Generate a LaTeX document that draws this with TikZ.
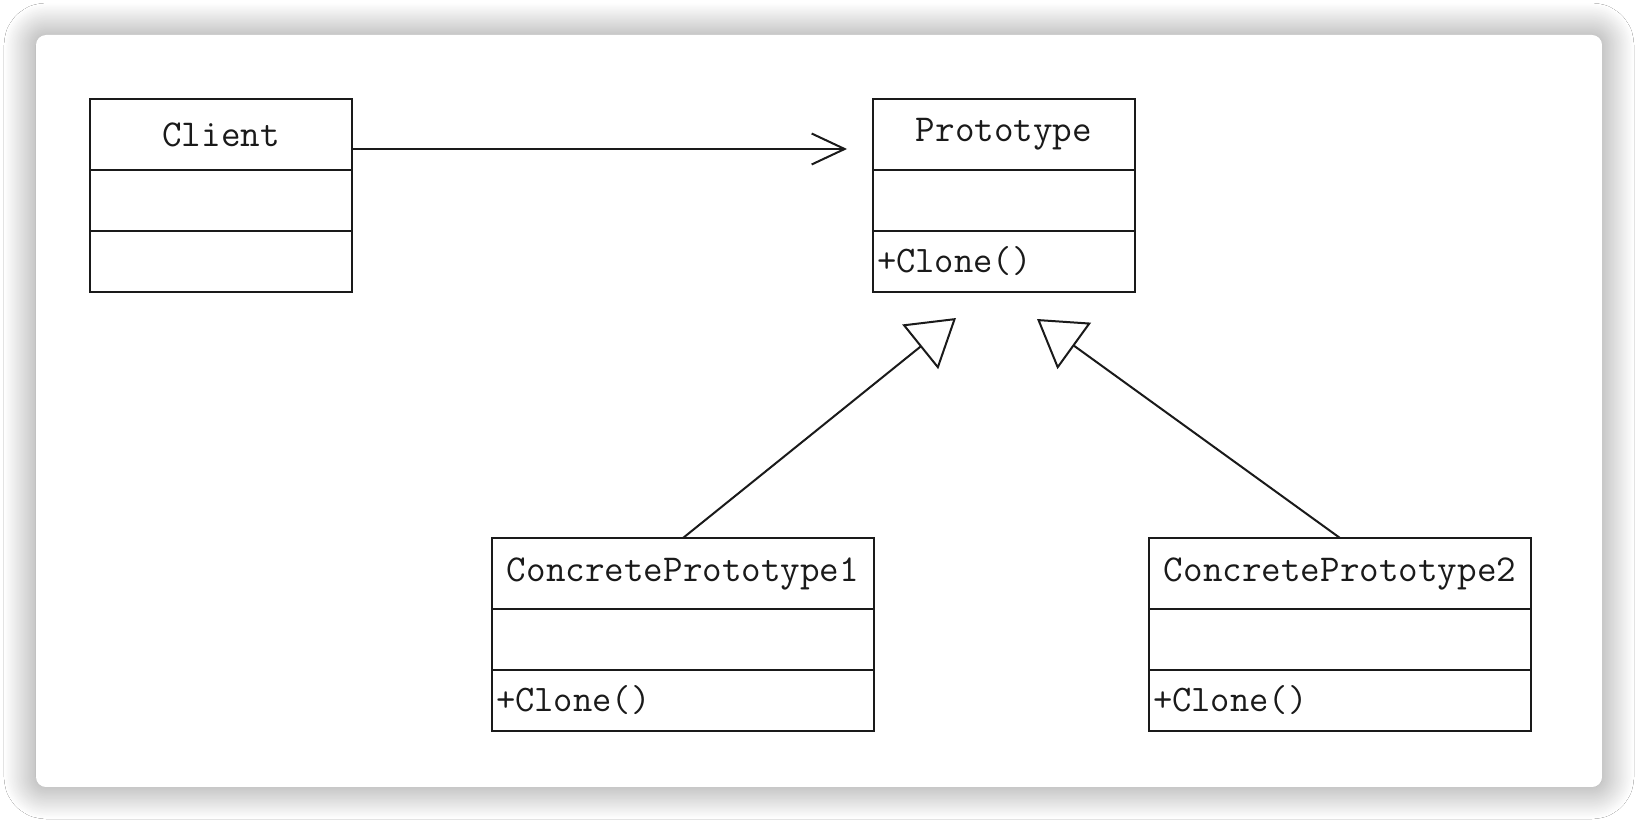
\documentclass[tikz,border=0pt]{standalone}
\usepackage{fontspec}
\usepackage{tikz}
\usetikzlibrary{arrows.meta,positioning,shadows.blur}
\definecolor{ink}{HTML}{1A1A1A}
\tikzset{
  % klasser
  cls/.style={draw=ink,fill=white,line width=2.2pt,outer sep=0pt,inner sep=0pt,text=ink},
  hd/.style={cls,minimum height=71pt,font=\ttfamily\fontsize{38}{42}\selectfont},
  cmp/.style={cls,minimum height=61pt,font=\ttfamily\fontsize{37.5}{42}\selectfont},
  % pilar
  assoc/.style={-{Straight Barb[length=33pt,width=31pt]},draw=ink,line width=2pt},
  inh/.style={-{Triangle[open,length=46pt,width=57pt]},draw=ink,line width=2pt},
}
\begin{document}
\begin{tikzpicture}[x=1pt,y=-1pt]
  \fill[white] (0,0) rectangle (1638,824);
  \useasboundingbox (0,0) rectangle (1638,824);
  \fill[white,rounded corners=10pt,blur shadow={shadow xshift=0pt,shadow yshift=0pt,
    shadow blur radius=32pt,shadow blur steps=40,shadow opacity=45}] (36,35) rectangle (1602,787);
  \foreach \nm/\x/\y/\w/\tw/\ttl/\op in {client/90/99/262/254/Client/{},
      proto/873/99/262/254/Prototype/{+Clone()},
      cp1/492/538/382/374/ConcretePrototype1/{+Clone()},
      cp2/1149/538/382/374/ConcretePrototype2/{+Clone()}} {
    \node[hd,minimum width=\w pt,anchor=north west] (\nm) at (\x,\y) {\ttl};
    \node[cmp,minimum width=\w pt,anchor=north] (\nm-a) at (\nm.south) {};
    \node[cmp,text width=\tw pt,inner xsep=4pt,align=left,anchor=north] (\nm-m) at (\nm-a.south) {\op};
  }
  \coordinate (ctip) at (847,149);
  \coordinate (tip1) at (956,318);
  \coordinate (tip2) at (1037,319);
  \draw[assoc] (client.east |- ctip) -- (ctip);
  \draw[inh] (cp1.north) -- (tip1);
  \draw[inh] (cp2.north) -- (tip2);
\end{tikzpicture}
\end{document}
